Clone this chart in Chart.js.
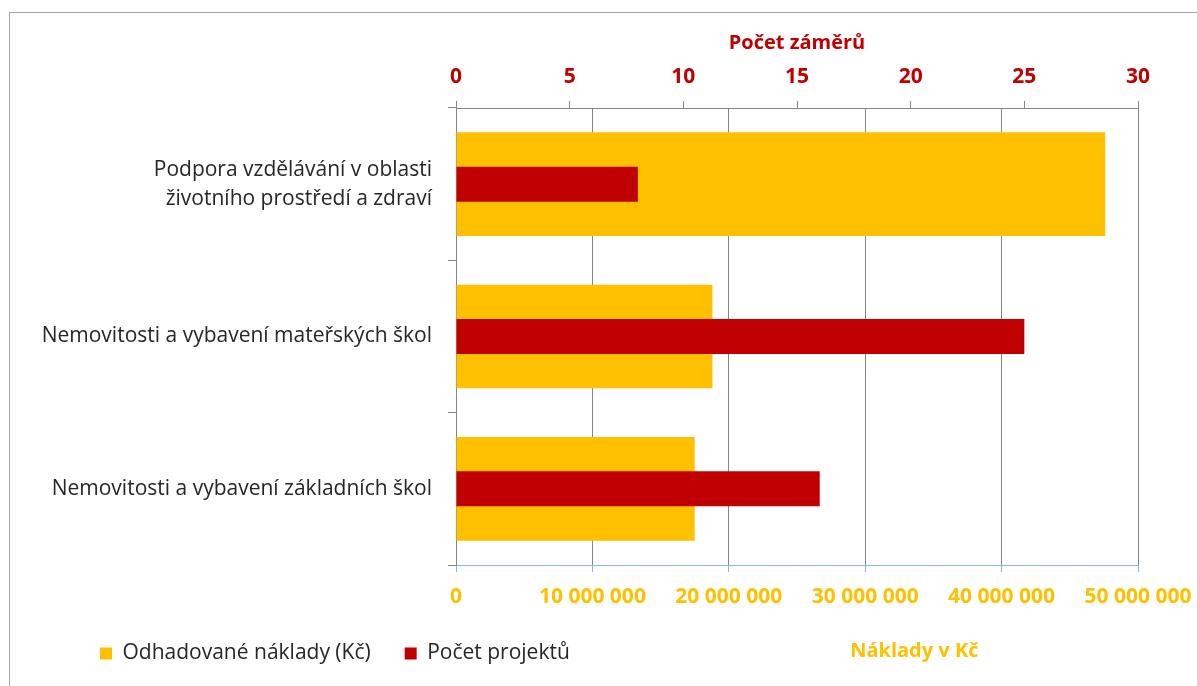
<!DOCTYPE html>
<html lang="cs">
<head>
<meta charset="utf-8">
<script src="https://cdn.jsdelivr.net/npm/chart.js@4"></script>
<style>
  html, body { margin: 0; padding: 0; background: #fff; }
  #wrap { width: 1197px; height: 686px; position: relative; }
</style>
</head>
<body>
<div id="wrap"><canvas id="chart" width="1197" height="686"></canvas></div>
<script>
// Data
const categories = [
  ['Podpora vzdělávání v oblasti', 'životního prostředí a zdraví'],
  'Nemovitosti a vybavení mateřských škol',
  'Nemovitosti a vybavení základních škol'
];
const nakladyKc = [47600000, 18800000, 17500000];
const pocetProjektu = [8, 25, 16];
const seriesNames = ['Odhadované náklady (Kč)', 'Počet projektů'];

const FONT = '"Open Sans", "Liberation Sans", sans-serif';
const YELLOW = '#FFC000';
const RED = '#C00000';
const GRID = '#868686';
const TXT = 21;   // běžný text
const BOLD = 21;  // popisky os
const PAD_LEFT = 20;
const LEGEND_LEFT = 66;

function formatKc(v) {
  return String(v).replace(/\B(?=(\d{3})+(?!\d))/g, ' ');
}

// rámeček kolem grafu, posun legendy + popisek dolní osy
const extras = {
  id: 'extras',
  afterLayout(chart) {
    chart.legend.left = LEGEND_LEFT;
  },
  beforeDraw(chart) {
    const c = chart.ctx;
    c.save();
    c.strokeStyle = '#A6A6A6';
    c.lineWidth = 1;
    c.strokeRect(9.5, 12.5, chart.width + 20, chart.height + 20);
    c.restore();
  },
  afterDraw(chart) {
    const c = chart.ctx;
    const area = chart.chartArea;
    const li = chart.legend.legendHitBoxes[0];
    c.save();
    c.font = 'bold 20px ' + FONT;
    c.fillStyle = YELLOW;
    c.textAlign = 'center';
    c.textBaseline = 'middle';
    c.fillText('Náklady v Kč', area.left + (area.right - area.left) * 0.672, li.top + li.height / 2 - 2);
    c.restore();
  }
};

const ctx = document.getElementById('chart').getContext('2d');
new Chart(ctx, {
  type: 'bar',
  data: {
    labels: categories,
    datasets: [{
      label: seriesNames[0],
      data: nakladyKc,
      backgroundColor: YELLOW,
      xAxisID: 'x',
      grouped: false,
      order: 2,
      categoryPercentage: 1,
      barPercentage: 0.68
    }, {
      label: seriesNames[1],
      data: pocetProjektu,
      backgroundColor: RED,
      xAxisID: 'x2',
      grouped: false,
      order: 1,
      categoryPercentage: 1,
      barPercentage: 0.23
    }]
  },
  options: {
    indexAxis: 'y',
    responsive: false,
    animation: false,
    layout: { padding: { left: PAD_LEFT, right: 59, top: 0, bottom: 12 } },
    plugins: {
      tooltip: { enabled: false },
      legend: {
        position: 'bottom',
        align: 'start',
        labels: {
          boxWidth: 12,
          boxHeight: 12,
          padding: 34,
          color: '#262626',
          font: { family: FONT, size: TXT },
          sort: (a, b) => a.datasetIndex - b.datasetIndex
        }
      }
    },
    scales: {
      x: {
        position: 'bottom',
        min: 0,
        max: 50000000,
        afterFit(s) { s.height = 44; s.paddingLeft = 0; s.paddingRight = 0; },
        ticks: {
          stepSize: 10000000,
          color: YELLOW,
          padding: 12,
          font: { family: FONT, size: BOLD, weight: 'bold' },
          callback: v => formatKc(v),
          maxRotation: 0
        },
        grid: { color: GRID, tickColor: '#8EB4E3', tickLength: 7 },
        border: { color: '#8EB4E3' }
      },
      x2: {
        position: 'top',
        min: 0,
        max: 30,
        afterFit(s) { s.height = 108; s.paddingLeft = 0; s.paddingRight = 0; },
        ticks: {
          stepSize: 5,
          color: RED,
          padding: 11,
          font: { family: FONT, size: BOLD, weight: 'bold' }
        },
        grid: { drawOnChartArea: false, tickColor: GRID, tickLength: 7 },
        border: { color: GRID },
        title: {
          display: true,
          text: 'Počet záměrů',
          color: RED,
          font: { family: FONT, size: 20, weight: 'bold' },
          padding: { top: 31, bottom: 0 }
        }
      },
      y: {
        afterFit(s) { s.width = 456 - PAD_LEFT; },
        ticks: {
          color: '#262626',
          padding: 16,
          font: { family: FONT, size: TXT, lineHeight: 1.38 }
        },
        grid: { offset: true, drawOnChartArea: false, tickColor: GRID, tickLength: 8 },
        border: { color: GRID }
      }
    }
  },
  plugins: [extras]
});
</script>
</body>
</html>
